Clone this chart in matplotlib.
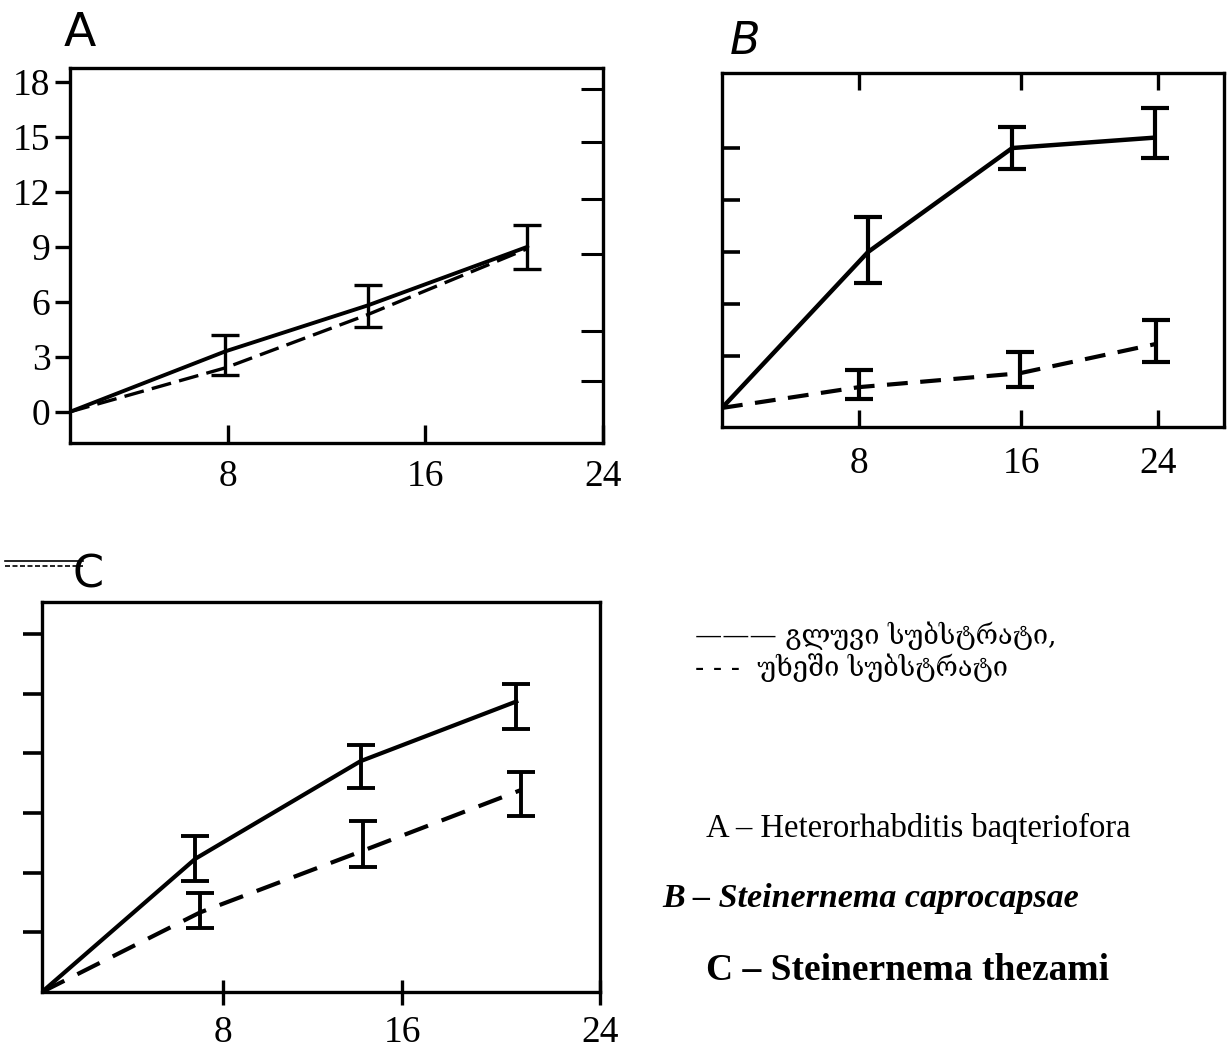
import matplotlib
matplotlib.use("Agg")
import matplotlib.pyplot as plt
from matplotlib.lines import Line2D

# ---------------- data ----------------
TICK_LABELS_X = ["8", "16", "24"]

# Panel A  (Heterorhabditis)
A_X = [0, 7.0, 13.4, 20.6]
A_SMOOTH = [0, 3.3, 5.8, 9.0]
A_ROUGH = [0, 2.4, 5.3, 8.9]
A_ERR_LOW = [2.0, 4.6, 7.8]
A_ERR_HIGH = [4.2, 6.9, 10.2]
A_YTICKS = [0, 3, 6, 9, 12, 15, 18]
A_YTICK_LABELS = ["0", "3", "6", "9", "12", "15", "18"]
A_RIGHT_MARKS = [1.7, 4.4, 8.6, 11.6, 14.7, 17.6]

# Panel B  (Steinernema caprocapsae)
B_SMOOTH_X = [0, 8.0, 15.9, 23.7]
B_SMOOTH = [0, 9.0, 15.0, 15.6]
B_SMOOTH_LOW = [7.2, 13.8, 14.4]
B_SMOOTH_HIGH = [11.0, 16.2, 17.3]
B_ROUGH_X = [0, 7.5, 16.3, 23.8]
B_ROUGH = [0, 1.2, 2.0, 3.7]
B_ROUGH_LOW = [0.5, 1.2, 2.65]
B_ROUGH_HIGH = [2.2, 3.2, 5.1]
B_YTICKS = [3, 6, 9, 12, 15]

# Panel C  (Steinernema thezami)
C_SMOOTH_X = [0, 6.6, 13.7, 20.4]
C_SMOOTH = [0, 6.7, 11.6, 14.6]
C_SMOOTH_LOW = [5.6, 10.25, 13.2]
C_SMOOTH_HIGH = [7.85, 12.4, 15.5]
C_ROUGH_X = [0, 6.8, 13.8, 20.6]
C_ROUGH = [0, 4.0, 7.1, 10.15]
C_ROUGH_LOW = [3.2, 6.3, 8.85]
C_ROUGH_HIGH = [5.0, 8.6, 11.05]
C_YTICKS = [3, 6, 9, 12, 15, 18]

LEGEND_SMOOTH = "——— გლუვი სუბსტრატი,"
LEGEND_ROUGH = "- - -  უხეში სუბსტრატი"
SPECIES = ["A – Heterorhabditis baqteriofora",
           "B – Steinernema caprocapsae",
           "C – Steinernema thezami"]

# ---------------- styling ----------------
W, H = 1232, 1050
fig = plt.figure(figsize=(W / 100, H / 100), dpi=100)
SERIF = ["Liberation Serif", "DejaVu Serif"]
TICKFS = 27


def box(l, t, r, b):
    return [l / W, 1 - b / H, (r - l) / W, (b - t) / H]


def frame(ax):
    for s in ax.spines.values():
        s.set_linewidth(2.4)
        s.set_color("black")


def errbars(ax, x, y, lo, hi, lw=2.6):
    yc = y[1:]
    ax.errorbar(x[1:], yc,
                yerr=[[c - l for c, l in zip(yc, lo)], [h - c for c, h in zip(yc, hi)]],
                fmt="none", ecolor="black", elinewidth=lw, capsize=10, capthick=lw)


def xlabels(ax, pos, pad):
    ax.set_xticks(pos)
    ax.set_xticklabels(TICK_LABELS_X, fontfamily=SERIF, fontsize=TICKFS)
    ax.tick_params(axis="x", direction="in", length=13, width=2.4, pad=pad)


# ---- Panel A ----
axA = fig.add_axes(box(70, 68, 603, 443))
axA.set_xlim(0, 24)
axA.set_ylim(-1.7, 18.75)
axA.plot(A_X, A_SMOOTH, color="black", lw=2.8, solid_capstyle="round")
axA.plot(A_X, A_ROUGH, color="black", lw=2.4, dashes=(6, 2.5))
errbars(axA, A_X, A_SMOOTH, A_ERR_LOW, A_ERR_HIGH, lw=2.4)
frame(axA)
xlabels(axA, [7.1, 16.0, 24.0], pad=12)
axA.set_yticks(A_YTICKS)
axA.set_yticklabels(A_YTICK_LABELS, fontfamily=SERIF, fontsize=TICKFS)
axA.tick_params(axis="y", direction="out", length=11, width=2.4, pad=3)
twA = axA.twinx()
twA.set_ylim(axA.get_ylim())
twA.set_yticks(A_RIGHT_MARKS)
twA.set_yticklabels([])
twA.tick_params(axis="y", direction="in", length=16, width=2.2)
for s in twA.spines.values():
    s.set_visible(False)

# ---- Panel B ----
axB = fig.add_axes(box(722, 73, 1224, 427))
axB.set_xlim(0, 27.5)
axB.set_ylim(-1.1, 19.33)
axB.plot(B_SMOOTH_X, B_SMOOTH, color="black", lw=3.2)
axB.plot(B_ROUGH_X, B_ROUGH, color="black", lw=3.0, dashes=(5, 3))
errbars(axB, B_SMOOTH_X, B_SMOOTH, B_SMOOTH_LOW, B_SMOOTH_HIGH, lw=3.0)
errbars(axB, B_ROUGH_X, B_ROUGH, B_ROUGH_LOW, B_ROUGH_HIGH, lw=3.0)
frame(axB)
xlabels(axB, [7.5, 16.4, 23.9], pad=14)
axB.tick_params(axis="x", top=True, direction="in", length=12, width=2.4)
axB.set_yticks(B_YTICKS)
axB.set_yticklabels([])
axB.tick_params(axis="y", direction="in", length=13, width=2.6)

# ---- Panel C ----
axC = fig.add_axes(box(42, 602, 600, 992))
axC.set_xlim(0, 24)
axC.set_ylim(0, 19.6)
axC.plot(C_SMOOTH_X, C_SMOOTH, color="black", lw=3.0)
axC.plot(C_ROUGH_X, C_ROUGH, color="black", lw=3.0, dashes=(6, 3.5))
errbars(axC, C_SMOOTH_X, C_SMOOTH, C_SMOOTH_LOW, C_SMOOTH_HIGH, lw=2.8)
errbars(axC, C_ROUGH_X, C_ROUGH, C_ROUGH_LOW, C_ROUGH_HIGH, lw=2.8)
frame(axC)
xlabels(axC, [7.8, 15.5, 24.0], pad=8)
axC.tick_params(axis="x", direction="inout", length=18)
axC.set_yticks(C_YTICKS)
axC.set_yticklabels([])
axC.tick_params(axis="y", direction="out", length=14, width=2.6)

# ---- panel letters ----
def ftext(x, y, s, **kw):
    fig.text(x / W, 1 - y / H, s, **kw)

ftext(80, 34, "A", fontsize=34, family="DejaVu Sans", ha="center", va="center")
ftext(745, 42, "B", fontsize=32, family="DejaVu Sans", style="italic", ha="center", va="center")
ftext(88, 575, "C", fontsize=32, family="DejaVu Sans", ha="center", va="center")
fig.add_artist(Line2D([5 / W, 83 / W], [1 - 561 / H] * 2, color="black", lw=1.2, transform=fig.transFigure))
fig.add_artist(Line2D([5 / W, 83 / W], [1 - 566 / H] * 2, color="black", lw=1.2, ls=(0, (3, 1.5)), transform=fig.transFigure))

# ---- legend and species ----
GEO = ["DejaVu Serif", "DejaVu Sans"]
ftext(695, 636, LEGEND_SMOOTH, fontsize=19.5, family=GEO, ha="left", va="center")
ftext(695, 668, LEGEND_ROUGH, fontsize=19.5, family=GEO, ha="left", va="center")

ftext(706, 828, SPECIES[0], fontsize=23.5, family=SERIF, ha="left", va="center")
ftext(662, 898, SPECIES[1], fontsize=24.5, family=SERIF, weight="bold", style="italic", ha="left", va="center")
ftext(706, 970, SPECIES[2], fontsize=27, family=SERIF, weight="bold", ha="left", va="center")

fig.savefig("out.png", dpi=100, facecolor="white")
